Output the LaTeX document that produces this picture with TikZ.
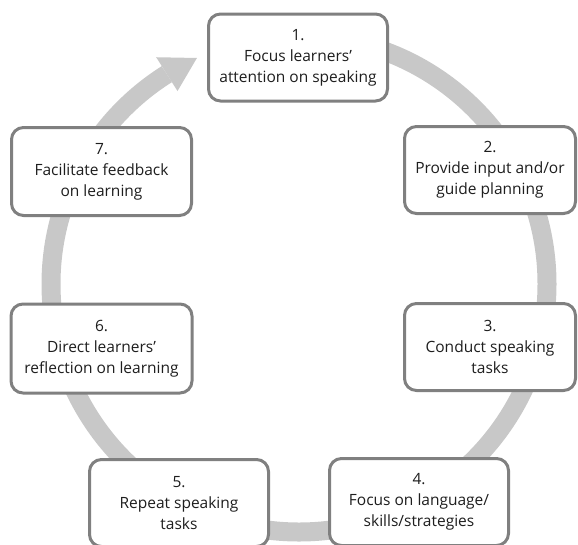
\documentclass[tikz,border=0pt]{standalone}
\usepackage{fontspec}
\setmainfont{Open Sans}
\definecolor{ringgray}{RGB}{200,200,200}
\definecolor{boxgray}{RGB}{128,128,128}
\definecolor{txtgray}{RGB}{30,30,30}
\begin{document}
\begin{tikzpicture}[x=1pt,y=1pt,
  stagebox/.style={draw=boxgray, line width=3pt, rounded corners=12pt, fill=white,
    minimum width=179pt, minimum height=87pt, align=center, text=txtgray,
    font=\fontsize{15.5}{21}\selectfont, inner sep=0pt}]
\useasboundingbox (0,0) rectangle (578,-544);
\clip (0,0) rectangle (578,-544);
% ring arrow
\coordinate (c) at (299,-284);
\draw[ringgray, line width=19pt] ([shift={(90:248)}]c) arc[start angle=90, end angle=-237.8, radius=248];
\coordinate (tip) at ([shift={(114.3:248)}]c);
\coordinate (hb1) at ([shift={(122.2:268)}]c);
\coordinate (hb2) at ([shift={(122.2:228)}]c);
\fill[ringgray] (hb1) -- (tip) -- (hb2) -- cycle;
% boxes
\node[stagebox] (n1) at (298,-57.5) {1.\\Focus learners’\\attention on speaking};
\node[stagebox, minimum width=171pt] (n2) at (490,-170) {2.\\Provide input and/or\\guide planning};
\node[stagebox, minimum width=171pt] (n3) at (490,-347) {3.\\Conduct speaking\\tasks};
\node[stagebox] (n4) at (419,-502) {4.\\Focus on language/\\skills/strategies};
\node[stagebox] (n5) at (179,-503) {5.\\Repeat speaking\\tasks};
\node[stagebox, minimum width=181pt, minimum height=89pt] (n6) at (101.5,-348.5) {6.\\Direct learners’\\reflection on learning};
\node[stagebox, minimum width=180pt, minimum height=88pt] (n7) at (101.5,-171.5) {7.\\Facilitate feedback\\on learning};
\end{tikzpicture}
\end{document}
